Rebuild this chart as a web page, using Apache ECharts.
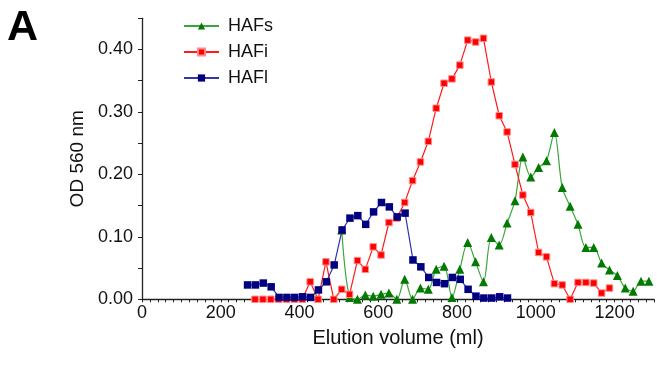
<!DOCTYPE html>
<html>
<head>
<meta charset="utf-8">
<script src="https://cdn.jsdelivr.net/npm/echarts@6/dist/echarts.min.js"></script>
<style>html,body{margin:0;padding:0;background:#fff}#c{width:657px;height:366px}</style>
</head>
<body>
<div id="c"></div>
<script>
const seriesNames = ['HAFs', 'HAFi', 'HAFl'];

const hafsX = [507,527,547,567,587,607,627,647,667,687,707,727,747,767,787,807,827,847,867,887,907,927,947,967,987,1007,1027,1047,1067,1087,1107,1127,1147,1167,1187,1207,1227,1247,1267,1287];
const hafsY = [0.111,0.003,0.000,0.007,0.005,0.008,0.010,0.000,0.032,0.000,0.018,0.016,0.048,0.053,0.003,0.048,0.091,0.060,0.028,0.099,0.087,0.122,0.158,0.228,0.196,0.211,0.222,0.267,0.179,0.149,0.120,0.083,0.083,0.058,0.047,0.038,0.018,0.013,0.029,0.029];

const hafiX = [287,307,327,347,367,387,407,427,447,467,487,507,527,547,567,587,607,627,647,667,687,707,727,747,767,787,807,827,847,867,887,907,927,947,967,987,1007,1027,1047,1067,1087,1107,1127,1147,1167,1187];
const hafiY = [0,0,0,0,0,0,0,0.028,0,0.060,0,0.016,0.008,0.062,0.048,0.084,0.071,0.123,0.130,0.155,0.190,0.220,0.253,0.306,0.346,0.353,0.375,0.415,0.412,0.418,0.348,0.294,0.268,0.216,0.167,0.139,0.075,0.068,0.025,0.023,0,0.027,0.027,0.026,0.010,0.018];

const haflX = [268,288,308,328,348,368,388,408,428,448,468,488,508,528,548,568,588,608,628,648,668,688,708,728,748,768,788,808,828,848,868,888,908,928];
const haflY = [0.023,0.023,0.026,0.020,0.003,0.003,0.003,0.004,0.003,0.015,0.028,0.055,0.111,0.130,0.134,0.120,0.140,0.155,0.148,0.132,0.138,0.063,0.052,0.035,0.027,0.025,0.035,0.032,0.016,0.005,0.002,0.002,0.004,0.002];

const xTickLabels = ['0','200','400','600','800','1000','1200'];
const yTickLabels = ['0.00','0.10','0.20','0.30','0.40'];

function pairs(xs, ys){ return xs.map((x,i)=>[x, ys[i]]); }

const FONT = 'Liberation Sans, Arial, sans-serif';
const chart = echarts.init(document.getElementById('c'), null, {renderer:'canvas'});
chart.setOption({
  animation: false,
  backgroundColor: '#fff',
  textStyle: {fontFamily: FONT},
  graphic: [{type:'text', left: 7, top: 7, style:{text:'A', font:'bold 43px ' + FONT, fill:'#000'}}],
  legend: {
    orient: 'vertical', left: 178, top: 12, itemGap: 8, itemWidth: 35, itemHeight: 9,
    textStyle: {fontSize: 18, color: '#111', fontFamily: FONT, padding: [0,0,0,4]},
    data: seriesNames
  },
  grid: {left: 142, right: 0, top: 18.3, bottom: 66.7, containLabel: false},
  xAxis: {
    type: 'value', min: 0, max: 1300, interval: 20,
    name: 'Elution volume (ml)', nameLocation: 'middle', nameGap: 29,
    nameTextStyle: {fontSize: 20, color: '#111', fontFamily: FONT},
    axisLine: {lineStyle: {color: '#222', width: 1.3}},
    axisTick: {show: true, length: 3, lineStyle: {color: '#222'}},
    splitLine: {show: false},
    axisLabel: {
      fontSize: 18, color: '#111', margin: 5, fontFamily: FONT,
      formatter: v => { const i = xTickLabels.indexOf(String(v)); return i >= 0 ? xTickLabels[i] : ''; }
    }
  },
  yAxis: {
    type: 'value', min: 0, max: 0.45, interval: 0.05,
    name: 'OD 560 nm', nameLocation: 'middle', nameGap: 53, nameRotate: 90,
    nameTextStyle: {fontSize: 19, color: '#111', fontFamily: FONT},
    axisLine: {show: true, lineStyle: {color: '#222', width: 1.3}},
    axisTick: {show: true, length: 4, lineStyle: {color: '#222'}},
    splitLine: {show: false},
    axisLabel: {
      fontSize: 18, color: '#111', margin: 9, fontFamily: FONT,
      formatter: v => { const s = v.toFixed(2); return yTickLabels.indexOf(s) >= 0 ? s : ''; }
    }
  },
  series: [
    {name: seriesNames[0], type: 'line', data: pairs(hafsX, hafsY), smooth: 0.3,
     symbol: 'triangle', symbolSize: 9,
     itemStyle: {color: '#007a00'}, lineStyle: {color: '#3aa53a', width: 1.2}},
    {name: seriesNames[1], type: 'line', data: pairs(hafiX, hafiY),
     symbol: 'rect', symbolSize: 6.5,
     itemStyle: {color: '#ff0000', borderColor: '#ff8c8c', borderWidth: 1}, lineStyle: {color: '#ff1a1a', width: 1.2}},
    {name: seriesNames[2], type: 'line', data: pairs(haflX, haflY),
     symbol: 'rect', symbolSize: 7.5,
     itemStyle: {color: '#000080'}, lineStyle: {color: '#3434b0', width: 1.2}}
  ]
});
</script>
</body>
</html>
